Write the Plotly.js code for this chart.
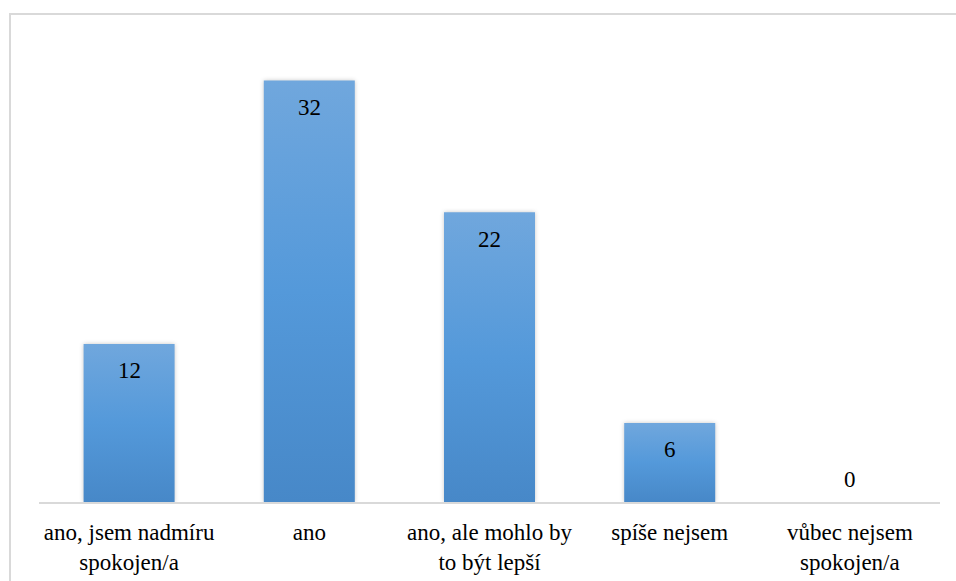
<!DOCTYPE html>
<html>
<head>
<meta charset="utf-8">
<script src="https://cdn.plot.ly/plotly-3.0.1.min.js"></script>
<style>
  html, body { margin: 0; padding: 0; background: #fff; }
  #wrap { position: relative; width: 956px; height: 581px; overflow: hidden; }
  #chart { width: 956px; height: 581px; }
  #frame { position: absolute; left: 9px; top: 13px; width: 960px; height: 600px;
           border-left: 2px solid #d9d9d9; border-top: 2px solid #d9d9d9; pointer-events: none; }
  #chart text, #chart tspan { font-family: 'Liberation Serif', 'Times New Roman', serif !important; }
  #chart .bars path { fill: url(#barGrad) !important; filter: drop-shadow(0 0 2px rgba(0,0,0,0.22)); }
</style>
</head>
<body>
<svg width="0" height="0" style="position:absolute">
  <defs>
    <linearGradient id="barGrad" x1="0" y1="0" x2="0" y2="1">
      <stop offset="0" stop-color="#70a7dd"/>
      <stop offset="0.5" stop-color="#5499da"/>
      <stop offset="1" stop-color="#4788c8"/>
    </linearGradient>
  </defs>
</svg>
<div id="wrap">
  <div id="chart"></div>
  <div id="frame"></div>
</div>
<script>
const categories = [
  "ano, jsem nadmíru<br>spokojen/a",
  "ano",
  "ano, ale mohlo by<br>to být lepší",
  "spíše nejsem",
  "vůbec nejsem<br>spokojen/a"
];
const values = [12, 32, 22, 6, 0];

const FONT = "Liberation Serif, Times New Roman, serif";

const annotations = values.map((v, i) => ({
  x: categories[i],
  y: v,
  xref: 'x', yref: 'y',
  text: String(v),
  showarrow: false,
  yanchor: 'middle',
  yshift: v > 0 ? -27 : 23,
  font: { family: FONT, size: 23, color: '#000' }
}));

const trace = {
  type: 'bar',
  x: categories,
  y: values,
  marker: { color: '#5b9bd5', line: { width: 0 } },
  width: 0.505,
  hoverinfo: 'skip'
};

const layout = {
  width: 956, height: 581,
  margin: { l: 39, r: 16, t: 41, b: 79, pad: 0 },
  paper_bgcolor: '#ffffff',
  plot_bgcolor: '#ffffff',
  showlegend: false,
  font: { family: FONT, size: 23, color: '#000' },
  xaxis: {
    type: 'category',
    showline: true, linecolor: '#d9d9d9', linewidth: 2,
    showgrid: false, zeroline: false,
    ticks: '', ticklabelstandoff: 8,
    tickfont: { family: FONT, size: 23, color: '#000' }
  },
  yaxis: {
    range: [0, 35],
    visible: false,
    showgrid: false, zeroline: false
  },
  annotations: annotations
};

function forceSerif() {
  document.querySelectorAll('#chart text, #chart tspan').forEach(el => {
    el.style.setProperty('font-family', "'Liberation Serif', 'Times New Roman', serif", 'important');
  });
}

Plotly.newPlot('chart', [trace], layout, { displayModeBar: false, staticPlot: true })
  .then(() => { forceSerif(); });
</script>
</body>
</html>
